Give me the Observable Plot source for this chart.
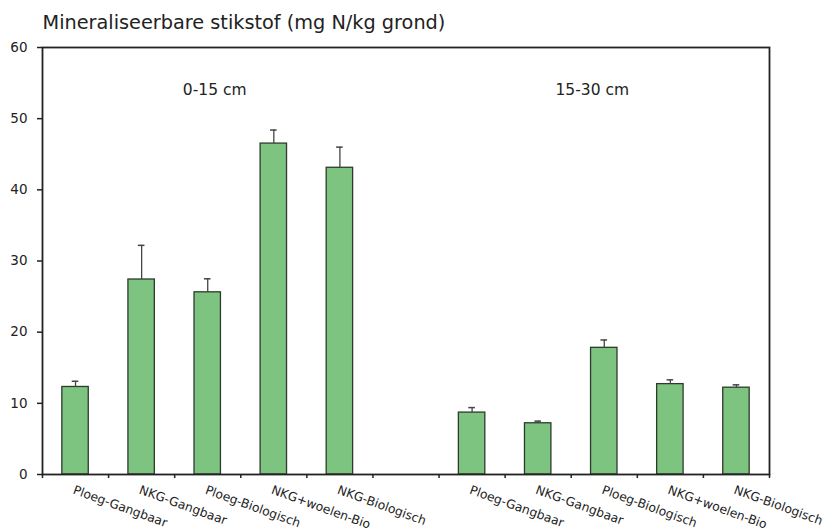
<!DOCTYPE html>
<html>
<head>
<meta charset="utf-8">
<script src="https://cdn.jsdelivr.net/npm/d3@7"></script>
<script src="https://cdn.jsdelivr.net/npm/@observablehq/plot@0.6"></script>
<style>
  html, body { margin: 0; padding: 0; background: #fff; }
  svg { display: block; }
</style>
</head>
<body>
<div id="chart"></div>
<script>
const categories = ["Ploeg-Gangbaar", "NKG-Gangbaar", "Ploeg-Biologisch", "NKG+woelen-Bio", "NKG-Biologisch"];
const depths = ["0-15 cm", "15-30 cm"];
const values0_15 = [12.3, 27.4, 25.6, 46.5, 43.1];
const errors0_15 = [0.8, 4.8, 1.9, 1.9, 2.9];
const values15_30 = [8.7, 7.2, 17.8, 12.7, 12.2];
const errors15_30 = [0.7, 0.3, 1.1, 0.6, 0.4];
const yTicks = [0, 10, 20, 30, 40, 50, 60];
const title = "Mineraliseerbare stikstof (mg N/kg grond)";

const groupValues = [values0_15, values15_30];
const groupErrors = [errors0_15, errors15_30];
const slotsPerGroup = categories.length + 1;
const nSlots = slotsPerGroup * depths.length - 1;

const rows = [];
depths.forEach((depth, g) => {
  categories.forEach((cat, i) => {
    rows.push({
      depth, cat,
      slot: g * slotsPerGroup + i,
      value: groupValues[g][i],
      err: groupErrors[g][i]
    });
  });
});
const groups = depths.map((depth, g) => ({
  depth,
  center: g * slotsPerGroup + categories.length / 2
}));

const font = "DejaVu Sans, Verdana, sans-serif";
const groupLabel = (d, dx) => Plot.text([d], {
  x: "center",
  text: "depth",
  frameAnchor: "top",
  lineAnchor: "middle",
  dy: 43,
  dx,
  fontSize: 15.5,
  fill: "#222"
});

const chart = Plot.plot({
  width: 825,
  height: 531,
  marginLeft: 42,
  marginRight: 56,
  marginTop: 47,
  marginBottom: 57,
  style: { fontFamily: font, background: "#fff", color: "#222" },
  x: { domain: [0, nSlots], axis: null },
  y: { domain: [0, 60], axis: null },
  marks: [
    Plot.axisY({ ticks: yTicks, tickSize: 5, tickPadding: 10, fontSize: 13.5, label: null, stroke: "#222", strokeWidth: 1.5 }),
    Plot.axisX({ ticks: d3.range(0, nSlots + 1), tickSize: 4, tickFormat: () => "", label: null, stroke: "#222", strokeWidth: 1.5 }),
    Plot.rectY(rows, {
      x1: d => d.slot + 0.3,
      x2: d => d.slot + 0.7,
      y1: 0,
      y2: "value",
      fill: "#7cc47f",
      stroke: "#2f3a2f",
      strokeWidth: 1.3
    }),
    Plot.ruleX(rows, {
      x: d => d.slot + 0.5,
      y1: "value",
      y2: d => d.value + d.err,
      stroke: "#444",
      strokeWidth: 1.3
    }),
    Plot.ruleY(rows, {
      x1: d => d.slot + 0.45,
      x2: d => d.slot + 0.55,
      y: d => d.value + d.err,
      stroke: "#444",
      strokeWidth: 1.5
    }),
    Plot.frame({ stroke: "#222", strokeWidth: 1.8 }),
    Plot.text(rows, {
      x: d => d.slot + 0.5,
      y: 0,
      text: "cat",
      rotate: 20,
      textAnchor: "start",
      dx: -2,
      dy: 15,
      fontSize: 12.3,
      fill: "#222"
    }),
    groupLabel(groups[0], 7),
    groupLabel(groups[1], -12),
    Plot.text([title], {
      text: d => d,
      frameAnchor: "top-left",
      textAnchor: "start",
      lineAnchor: "middle",
      dx: 0,
      dy: -25,
      fontSize: 19.3,
      fill: "#222"
    })
  ]
});
document.getElementById("chart").append(chart);
</script>
</body>
</html>
